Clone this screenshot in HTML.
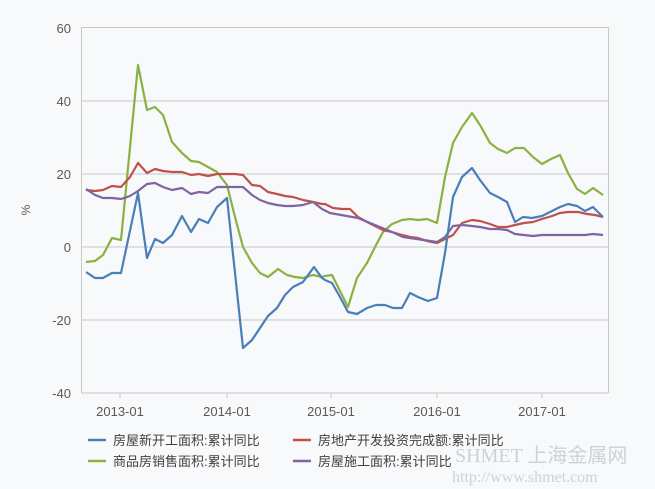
<!DOCTYPE html>
<html><head><meta charset="utf-8"><style>
html,body{margin:0;padding:0;background:#f8f9fb;}
svg{display:block;font-family:"Liberation Sans","Noto Sans CJK SC",sans-serif;}
</style></head><body>
<svg width="655" height="489" viewBox="0 0 655 489">
<rect width="655" height="489" fill="#f8f9fb"/>
<g stroke="#c8c8c8" stroke-width="1">
<line x1="81" y1="27.5" x2="608" y2="27.5"/>
<line x1="81" y1="101" x2="608" y2="101"/>
<line x1="81" y1="174" x2="608" y2="174"/>
<line x1="81" y1="247" x2="608" y2="247"/>
<line x1="81" y1="320" x2="608" y2="320"/>
<line x1="81" y1="393" x2="608" y2="393"/>
<line x1="81.5" y1="27" x2="81.5" y2="393"/>
<line x1="608.5" y1="27" x2="608.5" y2="393"/>
<line x1="120" y1="393" x2="120" y2="398"/>
<line x1="227" y1="393" x2="227" y2="398"/>
<line x1="331" y1="393" x2="331" y2="398"/>
<line x1="437" y1="393" x2="437" y2="398"/>
<line x1="542" y1="393" x2="542" y2="398"/>
</g>
<g fill="#595959" font-size="13" text-anchor="end">
<text x="71" y="33">60</text><text x="71" y="106">40</text><text x="71" y="179">20</text>
<text x="71" y="252">0</text><text x="71" y="325">-20</text><text x="71" y="398">-40</text>
</g>
<text x="30" y="210" fill="#595959" font-size="12" transform="rotate(-90 30 210)" text-anchor="middle">%</text>
<g fill="#595959" font-size="13" text-anchor="middle">
<text x="120" y="416">2013-01</text><text x="227" y="416">2014-01</text><text x="331" y="416">2015-01</text>
<text x="437" y="416">2016-01</text><text x="542" y="416">2017-01</text>
</g>
<g fill="none" stroke-width="2.2" stroke-linejoin="round">
<polyline stroke="#8bb142" points="86,262 95,261 103,255 112,238 121,240 138,65 147,110 155,107 163,115 172,142 182,153 191,161 199,162 208,167 217,172 227,185 235,217 243,247 252,263 260,273 268,277 278,269 287,275 295,277 303,278 313,275 322,277 325,276 332,275 348,307 357,278 367,263 375,247 383,232 392,224 402,220 410,219 418,220 427,219 437,223 445,177 453,143 462,127 472,113 480,125 490,143 498,149 507,153 515,148 524,148 533,157 542,164 551,159 560,155 568,173 577,189 585,194 593,188 603,195"/>
<polyline stroke="#c0504d" points="86,190 95,191 103,190 112,186 121,187 130,177 138,163 147,173 155,169 163,171 172,172 182,172 191,175 199,174 208,176 217,174 227,174 235,174 243,175 252,185 260,186 268,192 277,194 285,196 293,197 303,200 313,202 322,204 325,204 333,208 342,209 350,209 358,217 367,222 375,226 383,230 392,232 402,235 410,237 418,238 427,241 437,243 445,239 453,235 462,223 472,220 480,221 490,224 498,227 507,227 515,225 524,223 533,222 542,219 552,216 560,213 568,212 578,212 587,214 595,215 603,217"/>
<polyline stroke="#8064a2" points="86,189 95,195 103,198 112,198 121,199 130,196 138,191 147,184 155,183 163,187 172,190 182,188 191,194 199,192 208,193 217,187 227,187 243,187 252,195 260,200 268,203 277,205 285,206 293,206 303,205 313,202 322,209 330,213 358,218 392,232 403,237 437,242 445,237 453,226 462,225 472,226 480,227 490,229 498,229 507,230 515,234 524,235 533,236 542,235 558,235 575,235 585,235 593,234 603,235"/>
<polyline stroke="#4a7ebb" points="86,272 95,278 103,278 112,273 121,273 138,193 147,258 155,239 163,243 172,235 182,216 191,232 199,219 208,223 217,207 227,198 243,348 252,340 260,328 268,316 277,308 285,295 293,287 303,282 314,267 322,278 325,280 332,283 340,297 348,312 357,314 367,308 376,305 385,305 393,308 402,308 410,293 418,297 428,301 437,298 445,253 453,197 462,177 472,168 480,180 490,193 498,197 507,202 515,222 523,217 532,218 542,216 552,211 560,207 568,204 577,206 585,211 593,207 603,217"/>
</g>
<g stroke-width="2.5">
<line x1="88" y1="440" x2="106" y2="440" stroke="#4a7ebb"/>
<line x1="293" y1="440" x2="311" y2="440" stroke="#c0504d"/>
<line x1="88" y1="461" x2="106" y2="461" stroke="#8bb142"/>
<line x1="293" y1="461" x2="311" y2="461" stroke="#8064a2"/>
</g>
<g fill="#404040" font-size="13">
<text x="113" y="445">房屋新开工面积:累计同比</text>
<text x="318" y="445">房地产开发投资完成额:累计同比</text>
<text x="113" y="466">商品房销售面积:累计同比</text>
<text x="318" y="466">房屋施工面积:累计同比</text>
</g>
<g fill="#c4c8cc" opacity="0.8">
<text x="455" y="462" font-size="20" font-family="Liberation Serif,serif">SHMET 上海金属网</text>
<text x="452" y="482" font-size="16" font-family="Liberation Serif,serif">http://www.shmet.com</text>
</g>
</svg>
</body></html>
